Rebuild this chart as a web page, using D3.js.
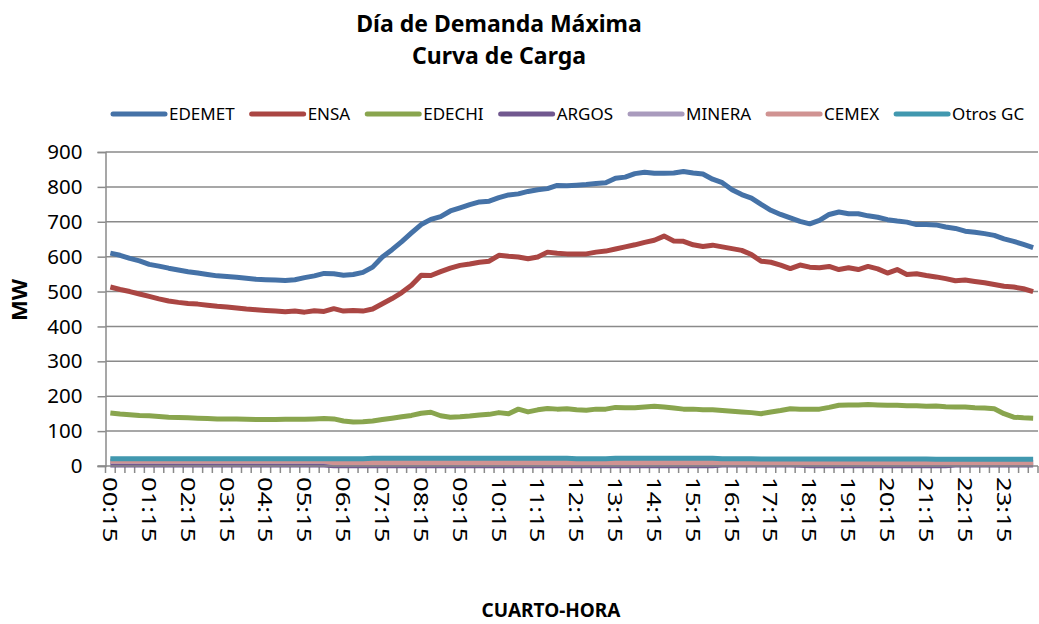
<!DOCTYPE html>
<html>
<head>
<meta charset="utf-8" />
<title>Curva de Carga</title>
<script src="https://cdn.jsdelivr.net/npm/d3@7"></script>
<style>
  body { margin: 0; background: #fff; }
  text { font-family: "Noto Sans", sans-serif; fill: #000; }
</style>
</head>
<body>
<svg id="chart" width="1039" height="624"></svg>
<script>
// quarter hours 00:15 ... 24:00
var times = d3.range(1, 97).map(function(q) {
  var m = q * 15;
  return String(Math.floor(m / 60)).padStart(2, "0") + ":" + String(m % 60).padStart(2, "0");
});

var seriesNames = ["EDEMET", "ENSA", "EDECHI", "ARGOS", "MINERA", "CEMEX", "Otros GC"];
var seriesColors = ["#4572A7", "#AA4643", "#89A54E", "#71588F", "#A99BBD", "#D09392", "#4198AF"];

var edemet = [610,604,595,588,578,573,567,562,557,553,549,545,543,541,538,535,534,533,532,534,
  540,545,552,551,547,549,555,570,599,620,643,668,692,707,715,731,740,749,757,759,
  769,777,780,787,792,795,804,803,805,807,810,812,825,828,838,842,839,839,840,844,
  840,837,822,812,792,778,768,750,733,721,711,701,694,704,721,728,723,723,717,713,
  706,702,699,692,692,691,685,681,673,670,666,661,651,644,635,626];
var ensa = [513,506,500,493,486,479,473,469,466,464,461,458,456,453,450,448,446,444,442,444,
  441,445,443,451,444,446,444,450,465,480,497,518,547,546,557,567,575,579,584,587,
  604,601,599,594,599,613,610,608,608,608,613,616,622,628,634,641,647,659,645,644,
  634,629,633,628,623,618,606,587,584,576,566,576,570,568,572,563,568,563,572,565,
  553,563,549,551,546,542,537,531,533,529,525,520,515,513,508,500];
var edechi = [152,149,147,145,144,142,140,139,138,137,136,135,135,135,134,133,133,133,134,134,
  134,135,136,135,129,126,127,129,133,137,141,145,151,154,144,140,141,143,146,148,
  153,150,163,155,161,165,163,164,161,160,163,163,168,167,167,169,171,169,166,163,
  163,161,161,159,157,155,153,150,155,159,164,163,163,163,168,174,175,175,176,175,
  174,174,173,173,171,172,170,169,169,167,166,164,150,140,138,137];
var argos = [3,3,3,3,3,3,3,3,3,3,3,3,3,3,3,3,3,3,3,3,3,3,3,1,1,1,1,1,1,1,
  1,1,1,1,1,1,1,1,1,1,1,1,1,1,1,1,1,1,1,1,1,1,1,1,1,1,1,1,1,1,
  1,1,1,3,3,3,3,3,3,3,3,2,1,1,1,1,1,1,1,1,1,1,1,1,1,1,1,3,3,3,
  3,3,3,3,3,3];
var minera = [13,13,13,13,13,13,13,13,13,13,13,13,13,13,13,13,13,13,13,13,13,13,13,9,9,9,9,9,9,9,
  9,9,9,9,9,9,9,9,9,9,9,9,9,9,9,9,9,9,9,9,9,9,9,9,9,9,9,9,9,9,
  9,9,9,9,9,9,9,9,9,9,9,9,9,9,9,9,9,9,9,9,9,9,9,9,9,9,9,9,9,9,
  9,9,9,9,9,9];
var cemex = [14,14,14,14,14,14,14,14,14,14,14,14,14,14,14,14,14,14,14,14,14,14,14,10,10,10,10,10,10,10,
  10,10,10,10,10,10,10,10,10,10,10,10,10,10,10,10,10,10,10,10,10,10,10,10,10,10,10,10,10,10,
  10,10,10,10,10,10,10,10,10,10,10,10,10,10,10,10,10,10,10,10,10,10,10,10,10,10,10,10,10,10,
  10,10,10,10,10,10];
var otros = [21,21,21,21,21,21,21,21,21,21,21,21,21,21,21,21,21,21,21,21,21,21,21,21,21,21,21,22,22,22,
  22,22,22,22,22,22,22,22,22,22,22,22,22,22,22,22,22,22,21,21,21,21,22,22,22,22,22,22,22,22,
  22,22,22,21,21,21,21,20,20,20,20,20,20,20,20,20,20,20,20,20,20,20,20,20,20,19,19,19,19,19,
  19,19,19,19,19,19];
var seriesValues = [edemet, ensa, edechi, argos, minera, cemex, otros];

var yTicks = [0,100,200,300,400,500,600,700,800,900];

var svg = d3.select("#chart");
svg.append("rect").attr("width", 1039).attr("height", 624).attr("fill", "#fff");

var plotLeft = 105.5, plotRight = 1038, plotTop = 152, plotBottom = 466;

var x = d3.scaleBand().domain(times).range([plotLeft, plotRight]);
var y = d3.scaleLinear().domain([0, 900]).range([plotBottom, plotTop]);

// gridlines
svg.append("g").selectAll("line").data(yTicks.filter(function(d){ return d > 0; }))
  .enter().append("line")
  .attr("x1", plotLeft).attr("x2", plotRight)
  .attr("y1", function(d){ return y(d); }).attr("y2", function(d){ return y(d); })
  .attr("stroke", "#8a8a8a").attr("stroke-width", 1.5);

// y axis
var yAxis = svg.append("g").attr("transform", "translate(" + plotLeft + ",0)")
  .call(d3.axisLeft(y).tickValues(yTicks).tickSize(8).tickPadding(15));
yAxis.select(".domain").attr("stroke", "#8a8a8a").attr("stroke-width", 1.5);
yAxis.selectAll(".tick line").attr("stroke", "#8a8a8a").attr("stroke-width", 1.5);
yAxis.selectAll(".tick text").attr("font-size", 20.5).attr("font-family", "Noto Sans").attr("fill", "#000");

// x axis ticks on category boundaries
var bounds = d3.range(0, times.length + 1).map(function(i){ return plotLeft + i * x.step(); });
svg.append("g").selectAll("line").data(bounds).enter().append("line")
  .attr("x1", function(d){ return d; }).attr("x2", function(d){ return d; })
  .attr("y1", plotBottom).attr("y2", plotBottom + 7)
  .attr("stroke", "#8a8a8a").attr("stroke-width", 1.5);

// x labels every hour
svg.append("g").selectAll("text")
  .data(times.filter(function(d, i){ return i % 4 === 0; }))
  .enter().append("text")
  .attr("transform", function(d){
    return "translate(" + (x(d) + x.bandwidth() / 2) + "," + (plotBottom + 11) + ") rotate(90) scale(1.25,1)";
  })
  .attr("dy", "0.36em")
  .attr("font-size", 20.5)
  .text(function(d){ return d; });

// lines
var line = d3.line()
  .x(function(d, i){ return x(times[i]) + x.bandwidth() / 2; })
  .y(function(d){ return y(d); });

svg.append("g").selectAll("path").data(seriesValues).enter().append("path")
  .attr("d", line)
  .attr("fill", "none")
  .attr("stroke", function(d, i){ return seriesColors[i]; })
  .attr("stroke-width", 5)
  .attr("stroke-linejoin", "round");

// axis line on top
svg.append("line").attr("x1", plotLeft - 8).attr("x2", plotRight)
  .attr("y1", plotBottom).attr("y2", plotBottom)
  .attr("stroke", "#8a8a8a").attr("stroke-width", 1.5);

// legend
var lx = 113;
seriesNames.forEach(function(name, i) {
  svg.append("line").attr("x1", lx).attr("x2", lx + 52)
    .attr("y1", 114).attr("y2", 114)
    .attr("stroke", seriesColors[i]).attr("stroke-width", 5).attr("stroke-linecap", "round");
  var t = svg.append("text").attr("x", lx + 56).attr("y", 120)
    .attr("font-size", 17).text(name);
  lx = lx + 56 + t.node().getComputedTextLength() + 17;
});

// titles
svg.append("text").attr("x", 499).attr("y", 32).attr("text-anchor", "middle")
  .attr("font-size", 23).attr("font-weight", "bold").text("Día de Demanda Máxima");
svg.append("text").attr("x", 499).attr("y", 64).attr("text-anchor", "middle")
  .attr("font-size", 23).attr("font-weight", "bold").text("Curva de Carga");

svg.append("text").attr("x", 551).attr("y", 617).attr("text-anchor", "middle")
  .attr("font-size", 19).attr("font-weight", "bold").text("CUARTO-HORA");

svg.append("text").attr("transform", "translate(27,300) rotate(-90)")
  .attr("text-anchor", "middle")
  .attr("font-size", 22).attr("font-weight", "bold").text("MW");
</script>
</body>
</html>
